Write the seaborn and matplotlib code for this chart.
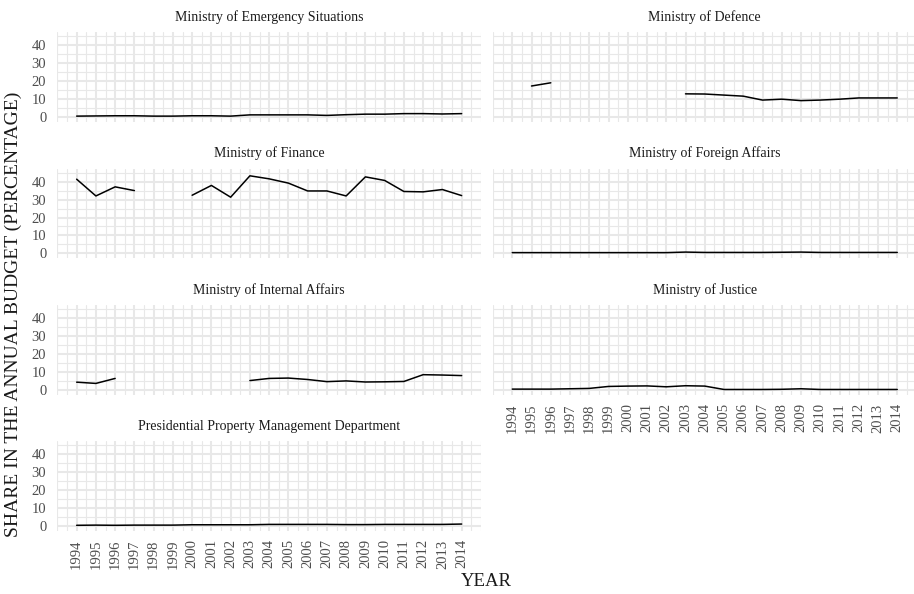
import numpy as np
import pandas as pd
import matplotlib
matplotlib.use("Agg")
import matplotlib.pyplot as plt
from matplotlib.ticker import MultipleLocator
import seaborn as sns

# ---------------- data ----------------
years = list(range(1994, 2015))
ministries = [
    "Ministry of Emergency Situations",
    "Ministry of Defence",
    "Ministry of Finance",
    "Ministry of Foreign Affairs",
    "Ministry of Internal Affairs",
    "Ministry of Justice",
    "Presidential Property Management Department",
]
nan = np.nan
emergency = [0.3, 0.4, 0.5, 0.5, 0.3, 0.3, 0.5, 0.5, 0.3, 1.0, 1.0, 1.0, 1.0,
             0.7, 1.1, 1.4, 1.4, 1.7, 1.7, 1.5, 1.7]
defence = [nan, 17.2, 19.0, nan, nan, nan, nan, nan, nan, 12.8, 12.7, 12.1,
           11.5, 9.3, 9.8, 9.0, 9.3, 9.8, 10.5, 10.5, 10.5]
finance = [41.5, 32.1, 37.2, 35.1, nan, nan, 32.5, 38.0, 31.4, 43.4, 41.7,
           39.3, 34.9, 34.9, 32.1, 42.8, 40.8, 34.6, 34.4, 35.7, 32.3]
foreign = [0.3, 0.3, 0.3, 0.3, 0.3, 0.3, 0.3, 0.3, 0.3, 0.6, 0.4, 0.4, 0.4,
           0.4, 0.5, 0.6, 0.4, 0.4, 0.4, 0.4, 0.4]
internal = [4.2, 3.5, 6.3, nan, nan, nan, nan, nan, nan, 5.1, 6.3, 6.5, 5.7,
            4.5, 4.9, 4.3, 4.4, 4.6, 8.4, 8.2, 7.9]
justice = [0.3, 0.3, 0.3, 0.5, 0.7, 1.8, 2.0, 2.1, 1.6, 2.2, 2.0, 0.1, 0.1,
           0.1, 0.2, 0.5, 0.1, 0.1, 0.1, 0.1, 0.1]
presidential = [0.2, 0.3, 0.2, 0.3, 0.3, 0.3, 0.5, 0.5, 0.5, 0.5, 0.7, 0.7,
                0.7, 0.7, 0.6, 0.6, 0.7, 0.7, 0.7, 0.7, 0.9]
series = [emergency, defence, finance, foreign, internal, justice, presidential]
y_ticks = [0, 10, 20, 30, 40]

# long table; contiguous runs (gaps = missing years) get their own unit id
frames = []
for name, vals in zip(ministries, series):
    d = pd.DataFrame({"year": years, "share": vals, "ministry": name})
    d["seg"] = d["share"].isna().cumsum()
    frames.append(d.dropna(subset=["share"]))
df = pd.concat(frames, ignore_index=True)

# ---------------- style ----------------
sns.set_theme(style="white")
plt.rcParams["font.family"] = ["Liberation Serif", "DejaVu Serif"]

g = sns.relplot(
    data=df, x="year", y="share", col="ministry", col_order=ministries,
    col_wrap=2, kind="line", units="seg", estimator=None, sort=True,
    color="black", linewidth=1.1, height=2, aspect=2,
    facet_kws=dict(sharex=True, sharey=True),
)
fig = g.figure
fig.set_size_inches(9.14, 5.94)
fig.set_dpi(100)

W, H = 914.0, 594.0
col_x = [57.4, 493.0]
row_top = [32.0, 168.5, 305.0, 441.0]
pw, ph = 423.5, 90.0

g.set_titles("{col_name}", size=10, color="#1a1a1a", pad=8)
g.set_axis_labels("", "")

grid_c = "#E8E8E8"
axes = g.axes.flatten()
for i, ax in enumerate(axes):
    r, c = divmod(i, 2)
    ax.set_position([col_x[c] / W, 1 - (row_top[r] + ph) / H, pw / W, ph / H])
    ax.set_xlim(1993, 2015)
    ax.set_ylim(-3, 47.5)
    ax.set_xticks(years)
    ax.set_yticks(y_ticks)
    ax.xaxis.set_minor_locator(MultipleLocator(0.5))
    ax.yaxis.set_minor_locator(MultipleLocator(5))
    ax.grid(which="major", color=grid_c, linewidth=1.5)
    ax.grid(which="minor", color=grid_c, linewidth=0.8)
    ax.set_axisbelow(True)
    for s in ax.spines.values():
        s.set_visible(False)
    ax.tick_params(which="both", length=0)
    ax.tick_params(axis="y", pad=8, labelsize=10.5, labelcolor="#4d4d4d")
    ax.tick_params(axis="x", pad=6, labelsize=10.5, labelcolor="#4d4d4d",
                   rotation=90)
    show_x = (i == 6) or (i == 5)
    show_y = (c == 0)
    ax.tick_params(axis="x", labelbottom=show_x)
    ax.tick_params(axis="y", labelleft=show_y)
    ax.set_xlabel("")
    ax.set_ylabel("")

fig.text(13 / W, 1 - 314 / H, "SHARE IN THE ANNUAL BUDGET (PERCENTAGE)",
         rotation=90, ha="center", va="center", fontsize=14, color="#1a1a1a")
fig.text(486 / W, 1 - 582 / H, "YEAR", ha="center", va="center",
         fontsize=13.5, color="#1a1a1a")

fig.savefig("out.png", dpi=100)
